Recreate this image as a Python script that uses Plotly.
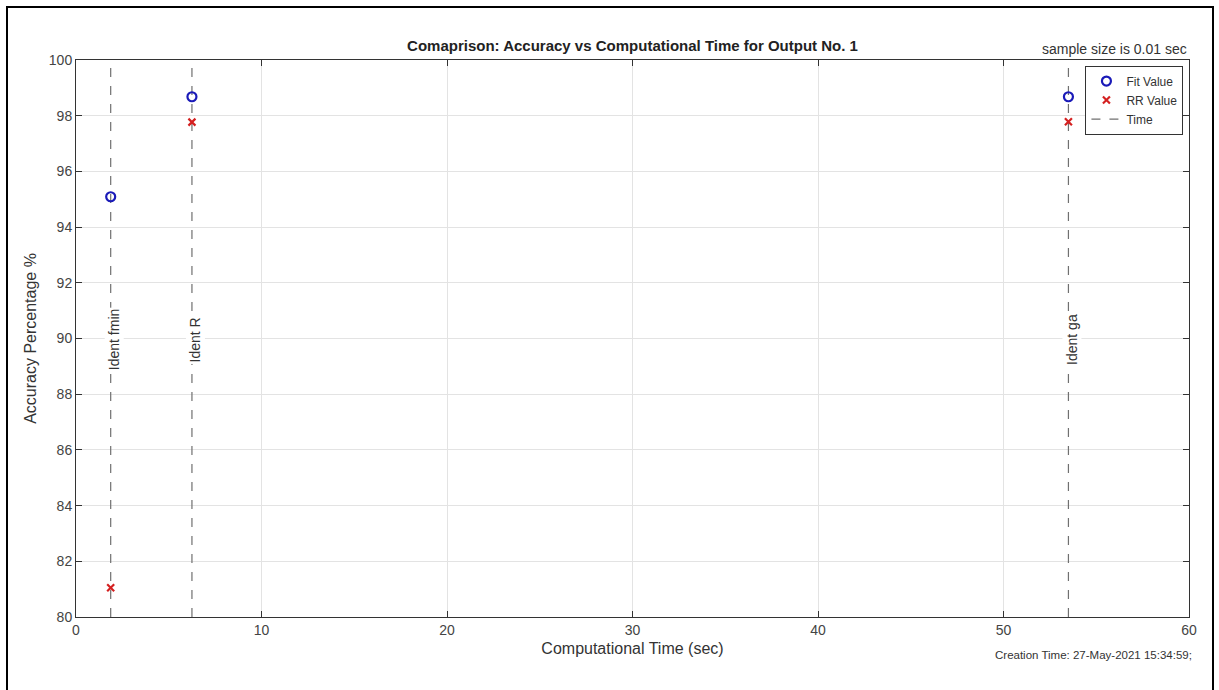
import plotly.graph_objects as go

methods = ["Ident fmin", "Ident R", "Ident ga"]
comp_time = [1.87, 6.25, 53.5]
fit_value = [95.09, 98.68, 98.68]
rr_value = [81.05, 97.77, 97.78]
x_ticks = [0, 10, 20, 30, 40, 50, 60]
y_ticks = [80, 82, 84, 86, 88, 90, 92, 94, 96, 98, 100]

W, H = 1219, 690
L, R, T, B = 76, 30, 60, 73
FONT = "Liberation Sans, Arial, sans-serif"

fig = go.Figure()

# vertical dashed "Time" lines
for i, (m, t) in enumerate(zip(methods, comp_time)):
    fig.add_trace(go.Scatter(
        x=[t, t], y=[80, 100], mode="lines",
        line=dict(color="#707070", width=1.2, dash="dash"),
        name="Time", showlegend=(i == 0), legendrank=3, hoverinfo="skip"))
    fig.add_annotation(x=t, y=90, text=m, textangle=-90, showarrow=False,
                       xref="x", yref="y", xshift=3, yshift=-1,
                       font=dict(family=FONT, size=14, color="#333333"),
                       bgcolor="white", borderpad=1)

fig.add_trace(go.Scatter(
    x=comp_time, y=fit_value, mode="markers", name="Fit Value", legendrank=1,
    marker=dict(symbol="circle-open", size=9, color="#1a1ab8",
                line=dict(width=2.2, color="#1a1ab8"))))
fig.add_trace(go.Scatter(
    x=comp_time, y=rr_value, mode="markers", name="RR Value", legendrank=2,
    marker=dict(symbol="x-thin-open", size=7, color="#d42020",
                line=dict(width=2.2, color="#d42020"))))

axis_common = dict(
    showgrid=True, gridcolor="#e3e3e3", gridwidth=1,
    showline=True, linecolor="#333333", linewidth=1, mirror="ticks",
    ticks="inside", ticklen=6, tickcolor="#333333", zeroline=False,
    tickfont=dict(family=FONT, size=14, color="#444444"),
)

fig.update_xaxes(range=[0, 60], tickvals=x_ticks,
                 title=dict(text="Computational Time (sec)", standoff=6,
                            font=dict(family=FONT, size=16, color="#333333")),
                 **axis_common)
fig.update_yaxes(range=[80, 100], tickvals=y_ticks,
                 title=dict(text="Accuracy Percentage %", standoff=8,
                            font=dict(family=FONT, size=16, color="#333333")),
                 **axis_common)

fig.update_layout(
    width=W, height=H,
    margin=dict(l=L, r=R, t=T, b=B),
    paper_bgcolor="white", plot_bgcolor="white",
    font=dict(family=FONT, color="#333333"),
    title=dict(text="<b>Comaprison: Accuracy vs Computational Time for Output No. 1</b>",
               x=(L + (W - R)) / 2 / W, xanchor="center",
               y=1 - 46 / H, yanchor="middle",
               font=dict(family=FONT, size=15, color="#222222")),
    legend=dict(x=0.995, y=0.99, xanchor="right", yanchor="top",
                bgcolor="white", bordercolor="#333333", borderwidth=1,
                font=dict(family=FONT, size=12, color="#333333"),
                itemwidth=30, tracegroupgap=0),
    showlegend=True,
)

# top-right note and creation time
fig.add_annotation(text="sample size is 0.01 sec", xref="paper", yref="paper",
                   x=1.0, y=1.0, xanchor="right", yanchor="bottom", yshift=1,
                   showarrow=False, font=dict(family=FONT, size=14, color="#333333"))
fig.add_annotation(text="Creation Time: 27-May-2021 15:34:59;", xref="paper", yref="paper",
                   x=1.0, y=0, xanchor="right", yanchor="top", yshift=-30, xshift=5,
                   showarrow=False, font=dict(family=FONT, size=11.5, color="#333333"))

# outer figure frame
fig.add_shape(type="rect", xref="paper", yref="paper",
              x0=(7 - L) / (W - L - R), x1=(1213 - L) / (W - L - R),
              y0=(H - B - 700) / (H - T - B), y1=(H - B - 7) / (H - T - B),
              line=dict(color="black", width=2), fillcolor="rgba(0,0,0,0)", layer="below")

fig.write_html("out.html")
